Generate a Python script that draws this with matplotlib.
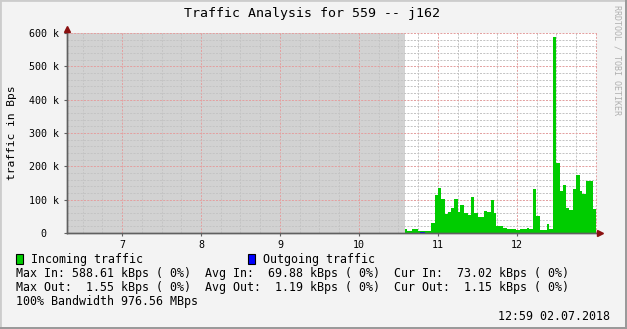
import numpy as np
import matplotlib.pyplot as plt
from matplotlib.patches import Rectangle

# data (hours of day, values in kBps)
in_edges = [10.59, 10.608, 10.667, 10.751, 10.916, 10.958, 11.0, 11.042, 11.093,
            11.127, 11.169, 11.211, 11.253, 11.283, 11.333, 11.376, 11.422, 11.460,
            11.506, 11.586, 11.620, 11.675, 11.713, 11.738, 11.823, 11.873, 11.992,
            12.042, 12.127, 12.152, 12.207, 12.241, 12.291, 12.384, 12.405, 12.460,
            12.498, 12.549, 12.586, 12.624, 12.662, 12.713, 12.751, 12.802, 12.827,
            12.878, 12.962, 13.0]
in_vals = [11, 5, 11, 5, 29, 113, 134, 101, 56, 62, 74, 101, 62, 83, 59, 53, 107,
           59, 47, 65, 62, 98, 59, 20, 14, 11, 8, 11, 14, 11, 131, 50, 8, 26, 11,
           588.6, 209, 125, 143, 74, 68, 131, 173, 125, 116, 155, 73]
out_edges = [10.59, 10.776, 10.835, 12.03, 12.08, 13.0]
out_vals = [1.1, 1.55, 1.1, 1.5, 1.15]

x_ticks = [7, 8, 9, 10, 11, 12]
y_ticks = [0, 100, 200, 300, 400, 500, 600]
y_labels = ["0  ", "100 k", "200 k", "300 k", "400 k", "500 k", "600 k"]

legend_rows = [
    "Max In: 588.61 kBps ( 0%)  Avg In:  69.88 kBps ( 0%)  Cur In:  73.02 kBps ( 0%)",
    "Max Out:  1.55 kBps ( 0%)  Avg Out:  1.19 kBps ( 0%)  Cur Out:  1.15 kBps ( 0%)",
    "100% Bandwidth 976.56 MBps",
]

W, H = 627, 329
MONO = "DejaVu Sans Mono"

def fx(x):
    return x / W

def fy(y):
    return 1 - y / H

fig = plt.figure(figsize=(W / 100, H / 100), dpi=100)
fig.patch.set_facecolor("#f3f3f3")

# frame around image
fig.patches.append(Rectangle((0, 0), 1, 1, transform=fig.transFigure, fill=False,
                             edgecolor="#cccccc", linewidth=2))
fig.patches.append(Rectangle((fx(625), 0), fx(2), 1, transform=fig.transFigure,
                             facecolor="#9a9a9a", edgecolor="none"))
fig.patches.append(Rectangle((0, 0), 1, 2 / H, transform=fig.transFigure,
                             facecolor="#9a9a9a", edgecolor="none"))

ax = fig.add_axes([fx(67), fy(233), 530 / W, 200 / H])
ax.set_facecolor("white")
ax.set_xlim(6.303, 13.016)
ax.set_ylim(0, 600)

# unknown-data region
ax.axvspan(ax.get_xlim()[0], in_edges[0], color="#d2d2d2", zorder=0, linewidth=0)

# grid
dash = (0, (2, 1.3))
for x in np.arange(6.5, 13.01, 0.25):
    major = abs(x - round(x)) < 1e-6
    ax.axvline(x, color="#e3a0a0" if major else "#c4c4c4", linestyle=dash,
               linewidth=0.72, zorder=1)
for y in range(20, 601, 20):
    major = y % 100 == 0
    ax.axhline(y, color="#e3a0a0" if major else "#c4c4c4", linestyle=dash,
               linewidth=0.72, zorder=1)

ax.stairs(in_vals, in_edges, fill=True, color="#00cc00", zorder=2)
ax.stairs(out_vals, out_edges, fill=True, color="#0000ff", zorder=3)

for s in ["top", "right"]:
    ax.spines[s].set_visible(False)
for s in ["left", "bottom"]:
    ax.spines[s].set_color("#606060")
    ax.spines[s].set_linewidth(1)
    ax.spines[s].set_zorder(4)

ax.set_xticks(x_ticks)
ax.set_xticklabels([str(t) for t in x_ticks])
ax.set_yticks(y_ticks)
ax.set_yticklabels(y_labels)
ax.tick_params(length=2, width=0.8, color="#606060", labelsize=7.2)
ax.tick_params(axis="x", pad=3)
ax.tick_params(axis="y", pad=4)
for lab in ax.get_xticklabels() + ax.get_yticklabels():
    lab.set_family(MONO)

# arrows on axes
ax.plot([0], [1.018], marker="^", markersize=4, color="#8b1010",
        transform=ax.transAxes, clip_on=False, zorder=5)
ax.plot([1.006], [0], marker=">", markersize=4, color="#8b1010",
        transform=ax.transAxes, clip_on=False, zorder=5)
ax.plot([0, 0], [0, 1.01], color="#606060", linewidth=1,
        transform=ax.transAxes, clip_on=False, zorder=4)
ax.plot([0, 1.006], [0, 0], color="#606060", linewidth=1,
        transform=ax.transAxes, clip_on=False, zorder=4)

fig.text(fx(12), fy(133), "traffic in Bps", rotation=90, ha="center", va="center",
         family=MONO, fontsize=8.1, color="#000000")
fig.text(fx(312), fy(13), "Traffic Analysis for 559 -- j162", ha="center", va="center",
         family=MONO, fontsize=9.5, color="#000000")
fig.text(fx(617), fy(5), "RRDTOOL / TOBI OETIKER", rotation=-90, ha="center", va="top",
         family=MONO, fontsize=6, color="#b0b0b0")

# legend
fig.patches.append(Rectangle((fx(16), fy(264)), 7 / W, 10 / H, transform=fig.transFigure,
                             facecolor="#00cc00", edgecolor="black", linewidth=0.8))
fig.text(fx(31), fy(259), "Incoming traffic", ha="left", va="center", family=MONO,
         fontsize=8.35)
fig.patches.append(Rectangle((fx(248), fy(264)), 7 / W, 10 / H, transform=fig.transFigure,
                             facecolor="#0000ff", edgecolor="black", linewidth=0.8))
fig.text(fx(263), fy(259), "Outgoing traffic", ha="left", va="center", family=MONO,
         fontsize=8.35)
for i, row in enumerate(legend_rows):
    fig.text(fx(16), fy(273 + 14 * i), row, ha="left", va="center", family=MONO,
             fontsize=8.35)
fig.text(fx(610), fy(316), "12:59 02.07.2018", ha="right", va="center", family=MONO,
         fontsize=8.35)

fig.savefig("out.png", dpi=100, facecolor=fig.get_facecolor())
